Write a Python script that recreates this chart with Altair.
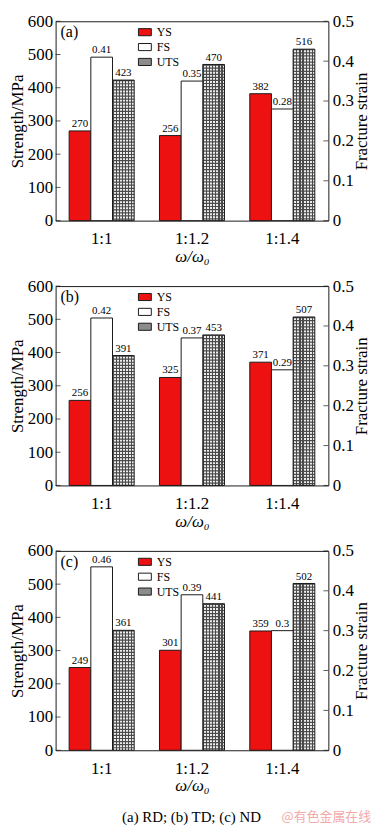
import altair as alt
import pandas as pd

ratios = ["1:1", "1:1.2", "1:1.4"]
series_names = ["YS", "FS", "UTS"]
panel_tags = ["(a)", "(b)", "(c)"]
ys_vals = [[270, 256, 382], [256, 325, 371], [249, 301, 359]]
fs_vals = [[0.41, 0.35, 0.28], [0.42, 0.37, 0.29], [0.46, 0.39, 0.30]]
uts_vals = [[423, 470, 516], [391, 453, 507], [361, 441, 502]]
strength_ticks = [0, 100, 200, 300, 400, 500, 600]
strain_ticks = [0, 0.1, 0.2, 0.3, 0.4, 0.5]
caption = "(a) RD; (b) TD; (c) ND"
watermark = "@有色金属在线"

W, H = 275, 201
SERIF = "Liberation Serif"
RED = "#ee1111"
EDGE = "#1a1a1a"
P_IN, P_OUT = 0.28, 0.15
BAR_W = W / (3 - P_IN + 2 * P_OUT) * (1 - P_IN) / 3


def stripes(n, dark, light, frac):
    stops = []
    for i in range(n):
        a = round(i / n, 5)
        b = round((i + frac) / n, 5)
        c = round((i + 1) / n, 5)
        stops += [
            {"offset": a, "color": dark},
            {"offset": b, "color": dark},
            {"offset": b, "color": light},
            {"offset": c, "color": light},
        ]
    return {"gradient": "linear", "stops": stops, "x1": 0, "y1": 0, "x2": 1, "y2": 0}


HATCH_DARK = "#4a4a4a"
HATCH_LIGHT = "#ececec"
hatch_cols = stripes(7, HATCH_DARK, "rgba(255,255,255,0)", 0.4)

color_scale = alt.Scale(domain=series_names, range=[RED, "white", "#8c8c8c"])
x_scale = alt.Scale(domain=ratios, paddingInner=P_IN, paddingOuter=P_OUT)
xo_scale = alt.Scale(domain=series_names, paddingInner=0, paddingOuter=0)
ys_scale = alt.Scale(domain=[0, 600], nice=False, zero=True)
fs_scale = alt.Scale(domain=[0, 0.5], nice=False, zero=True)

x_axis = alt.Axis(title="ω/ω₀", titleFontStyle="italic", labelAngle=0,
                  ticks=False, domain=False, labelPadding=10, titlePadding=2,
                  labelFontSize=17, titleFontSize=17, titleFontWeight="normal")
left_axis = alt.Axis(values=strength_ticks, title="Strength/MPa", orient="left",
                     ticks=False, domain=False, labelPadding=3, titlePadding=1,
                     labelFontSize=17, titleFontSize=17, titleFontWeight="normal",
                     format="d")
right_axis = alt.Axis(values=strain_ticks, title="Fracture strain", orient="right",
                      ticks=False, domain=False, labelPadding=4, titlePadding=0,
                      labelFontSize=17, titleFontSize=17, titleFontWeight="normal",
                      titleAngle=270, titleBaseline="top", format=".1~f")


def xenc():
    return alt.X("ratio:N", scale=x_scale, axis=x_axis)


def xoenc():
    return alt.XOffset("series:N", scale=xo_scale)


def ly(field="value:Q"):
    return alt.Y(field, scale=ys_scale, axis=left_axis)


def ry(field="value:Q"):
    return alt.Y(field, scale=fs_scale, axis=right_axis)


def panel(idx):
    rows = []
    for i, r in enumerate(ratios):
        rows.append({"ratio": r, "series": "YS", "value": ys_vals[idx][i]})
        rows.append({"ratio": r, "series": "FS", "value": fs_vals[idx][i]})
        rows.append({"ratio": r, "series": "UTS", "value": uts_vals[idx][i]})
    df = pd.DataFrame(rows)
    base = alt.Chart(df)
    ys = base.transform_filter(alt.datum.series == "YS")
    uts = base.transform_filter(alt.datum.series == "UTS")
    fs = base.transform_filter(alt.datum.series == "FS")

    ys_bar = ys.mark_bar(stroke=EDGE, strokeWidth=1).encode(
        x=xenc(), xOffset=xoenc(), y=ly(),
        fill=alt.Fill("series:N", scale=color_scale,
                      legend=alt.Legend(orient="none", legendX=83, legendY=4, title=None,
                                        symbolType="M-1,-0.55H1V0.55H-1Z", symbolSize=169,
                                        symbolStrokeColor=EDGE, symbolStrokeWidth=1,
                                        labelFont=SERIF, labelFontSize=12, labelOffset=5,
                                        rowPadding=2, padding=0, labelColor="black")),
    )
    uts_base = uts.mark_bar(fill=HATCH_LIGHT, strokeWidth=0).encode(
        x=xenc(), xOffset=xoenc(), y=ly(),
    )
    uts_rows = uts.mark_rule(color=HATCH_DARK, strokeWidth=BAR_W, strokeDash=[1.2, 1.9],
                             strokeCap="butt").encode(
        x=xenc(), xOffset=xoenc(), y=ly(), y2=alt.datum(0),
    )
    uts_over = uts.mark_bar(fill=hatch_cols, stroke=EDGE, strokeWidth=1).encode(
        x=xenc(), xOffset=xoenc(), y=ly(),
    )
    txt_kw = dict(font=SERIF, fontSize=11, baseline="bottom", dy=-2, color="black")
    ys_txt = ys.mark_text(**txt_kw).encode(
        x=xenc(), xOffset=xoenc(), y=ly(),
        text=alt.Text("value:Q", format="d"),
    )
    uts_txt = uts.mark_text(**txt_kw).encode(
        x=xenc(), xOffset=xoenc(), y=ly(),
        text=alt.Text("value:Q", format="d"),
    )
    left_ticks = alt.Chart(pd.DataFrame({"v": strength_ticks})).mark_tick(
        orient="horizontal", size=5, thickness=1, color=EDGE
    ).encode(y=ly("v:Q"), x=alt.value(2.5))
    tag = alt.Chart(pd.DataFrame({"t": [panel_tags[idx]]})).mark_text(
        font=SERIF, fontSize=16, align="left", baseline="middle", color="black"
    ).encode(text="t:N", x=alt.value(5), y=alt.value(11))

    left_layers = [ys_bar, uts_base, uts_rows, uts_over, ys_txt, uts_txt, left_ticks, tag]
    if idx == 2:
        cap = alt.Chart(pd.DataFrame({"t": [caption]})).mark_text(
            font=SERIF, fontSize=15, align="center", baseline="middle", color="black"
        ).encode(text="t:N", x=alt.value(137), y=alt.value(H + 67))
        wm = alt.Chart(pd.DataFrame({"t": [watermark]})).mark_text(
            font="Noto Sans CJK SC", fontSize=13, align="right", baseline="middle",
            color="#f2a9a9"
        ).encode(text="t:N", x=alt.value(318), y=alt.value(H + 67))
        left_layers += [cap, wm]
    left = alt.layer(*left_layers)

    fs_bar = fs.mark_bar(fill="white", stroke=EDGE, strokeWidth=1).encode(
        x=xenc(), xOffset=xoenc(), y=ry(),
    )
    fs_txt = fs.mark_text(**txt_kw).encode(
        x=xenc(), xOffset=xoenc(), y=ry(),
        text=alt.Text("value:Q", format=".2~f"),
    )
    right_ticks = alt.Chart(pd.DataFrame({"v": strain_ticks})).mark_tick(
        orient="horizontal", size=5, thickness=1, color=EDGE
    ).encode(y=ry("v:Q"), x=alt.value(W - 2.5))
    right = alt.layer(fs_bar, fs_txt, right_ticks)

    return alt.layer(left, right).resolve_scale(y="independent").properties(width=W, height=H)


chart = alt.vconcat(panel(0), panel(1), panel(2), spacing=11).resolve_scale(
    fill="independent"
).properties(padding=0).configure_view(stroke=EDGE, strokeWidth=1).configure_axis(
    grid=False, labelFont=SERIF, titleFont=SERIF, labelColor="black", titleColor="black"
)

chart.save("out.html", embed_options={"renderer": "svg", "actions": False})
